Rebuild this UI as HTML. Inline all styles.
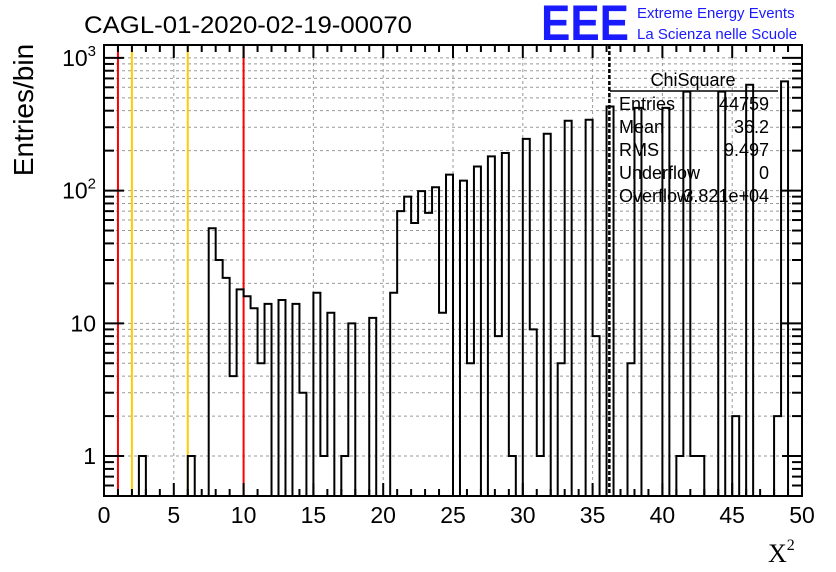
<!DOCTYPE html>
<html><head><meta charset="utf-8"><style>
html,body{margin:0;padding:0;background:#fff;}
svg{display:block;font-family:"Liberation Sans",Arial,sans-serif;}
</style></head><body>
<svg id="chart" width="836" height="572" viewBox="0 0 836 572">
<rect width="836" height="572" fill="#fff"/>
<text x="84" y="33" font-size="24" textLength="328" lengthAdjust="spacingAndGlyphs">CAGL-01-2020-02-19-00070</text>
<g>
<text x="541" y="40" font-size="50" font-weight="bold" fill="#1a1aff" textLength="88" lengthAdjust="spacingAndGlyphs">EEE</text>
<text x="637" y="18" font-size="15" fill="#1a1aff">Extreme Energy Events</text>
<text x="637" y="39" font-size="15" fill="#1a1aff">La Scienza nelle Scuole</text>
</g>
<g id="grid"></g>
<g id="marks"></g>
<g id="axes"></g>
<text transform="translate(33,110) rotate(-90)" text-anchor="middle" font-size="28">Entries/bin</text>
<text x="768" y="562" font-size="26" font-family="Liberation Serif,serif">X<tspan font-size="16" dy="-12">2</tspan></text>
<g font-size="18">
<text x="693" y="86" text-anchor="middle">ChiSquare</text>
<line x1="610" y1="91" x2="778" y2="91" stroke="#000" stroke-width="1.5"/>
<text x="619" y="110">Entries</text><text x="769" y="110" text-anchor="end">44759</text>
<text x="619" y="133">Mean</text><text x="769" y="133" text-anchor="end">36.2</text>
<text x="619" y="156">RMS</text><text x="769" y="156" text-anchor="end">9.497</text>
<text x="619" y="179">Underflow</text><text x="769" y="179" text-anchor="end">0</text>
<text x="619" y="202">Overflow</text><text x="769" y="202" text-anchor="end">3.821e+04</text>
</g>
</svg>
<script>
const binEdges = [0, 50];
const binCount = 100;
const counts = [0,0,0,0,0,1,0,0,0,0, 0,0,1,0,0,52,30,22,4,18, 16,13,5,14,0,15,0,14,3,0, 17,1,12,0,1,10,0,0,11,0, 0,17,70,90,57,99,68,106,12,132, 0,119,5,152,0,181,8,192,1,0, 245,9,1,268,0,5,336,0,0,342, 8,0,430,0,0,5,420,0,0,0, 420,0,1,557,1,1,0,0,557,0, 2,0,627,0,0,0,2,665,0,0];
const xTicks = [0,5,10,15,20,25,30,35,40,45,50];
const yDecades = [1,10,100,1000];
const yDecadeLabels = ["1","10","10²","10³"];
const redLines = [1,10];
const yellowLines = [2,6];
const meanLine = [36.2];
const yRange = [0.5,1250];

const L=104,R=802,T=45,B=496;
const NS="http://www.w3.org/2000/svg";
function sx(v){return L+(v-binEdges[0])/(binEdges[1]-binEdges[0])*(R-L);}
function sy(v){const a=Math.log10(yRange[0]),b=Math.log10(yRange[1]);return B-(Math.log10(v)-a)/(b-a)*(B-T);}
function mk(tag,attrs,parent){const e=document.createElementNS(NS,tag);for(const k in attrs)e.setAttribute(k,attrs[k]);parent.appendChild(e);return e;}
const grid=document.getElementById('grid'),marks=document.getElementById('marks'),axes=document.getElementById('axes');
xTicks.forEach(t=>{if(t>binEdges[0]&&t<binEdges[1]){const l=mk('line',{x1:sx(t),x2:sx(t),y1:T,y2:B,stroke:'#999','stroke-dasharray':'3,3','stroke-width':1},grid);

}});
yDecades.forEach(d=>{for(let m=1;m<10;m++){const v=d*m;if(v<=yRange[0]||v>=yRange[1])continue;const l=mk('line',{x1:L,x2:R,y1:sy(v),y2:sy(v),stroke:'#999','stroke-dasharray':'3,3','stroke-width':1},grid);

}});
redLines.forEach(v=>{const l=mk('line',{x1:sx(v),x2:sx(v),y1:T,y2:B,stroke:'#f00','stroke-width':2},marks);

});
yellowLines.forEach(v=>{const l=mk('line',{x1:sx(v),x2:sx(v),y1:T,y2:B,stroke:'#fc0','stroke-width':2},marks);

});
const w=(binEdges[1]-binEdges[0])/binCount;
let d='M'+sx(binEdges[0])+','+B;
counts.forEach((c,i)=>{const y=c>0?sy(Math.max(c,yRange[0])):B;d+=' L'+sx(binEdges[0]+i*w)+','+y+' L'+sx(binEdges[0]+(i+1)*w)+','+y;});
d+=' L'+sx(binEdges[1])+','+B;
const hp=mk('path',{d:d,fill:'none',stroke:'#000','stroke-width':2},marks);


meanLine.forEach(v=>{const l=mk('line',{x1:sx(v),x2:sx(v),y1:T,y2:B,stroke:'#000','stroke-width':2.5,'stroke-dasharray':'4,2'},marks);

});
const fr=mk('rect',{x:L,y:T,width:R-L,height:B-T,fill:'none',stroke:'#000','stroke-width':2},axes);


for(let v=binEdges[0];v<=binEdges[1];v+=1){const major=xTicks.includes(v);const len=major?13:7;
mk('line',{x1:sx(v),x2:sx(v),y1:B,y2:B-len,stroke:'#000','stroke-width':2},axes);
mk('line',{x1:sx(v),x2:sx(v),y1:T,y2:T+len,stroke:'#000','stroke-width':2},axes);}
xTicks.forEach(t=>{const e=mk('text',{x:sx(t),y:523,'text-anchor':'middle','font-size':23},axes);e.textContent=t;

});
yDecades.forEach((dd,i)=>{for(let m=1;m<10;m++){const v=dd*m;if(v<yRange[0]||v>yRange[1])continue;const len=m===1?20:10;
mk('line',{x1:L,x2:L+len,y1:sy(v),y2:sy(v),stroke:'#000','stroke-width':2},axes);
mk('line',{x1:R,x2:R-len,y1:sy(v),y2:sy(v),stroke:'#000','stroke-width':2},axes);}
const e=mk('text',{x:96,y:sy(dd)+8,'text-anchor':'end','font-size':23},axes);
const lab=yDecadeLabels[i];
if(lab.length>2){e.textContent='10';const ts=mk('tspan',{'font-size':15,dy:-10},e);ts.textContent=lab==='10³'?'3':'2';}else e.textContent=lab;

});
for(let m=5;m<10;m++){const v=m/10;mk('line',{x1:L,x2:L+10,y1:sy(v),y2:sy(v),stroke:'#000','stroke-width':2},axes);mk('line',{x1:R,x2:R-10,y1:sy(v),y2:sy(v),stroke:'#000','stroke-width':2},axes);}
</script>
</body></html>
